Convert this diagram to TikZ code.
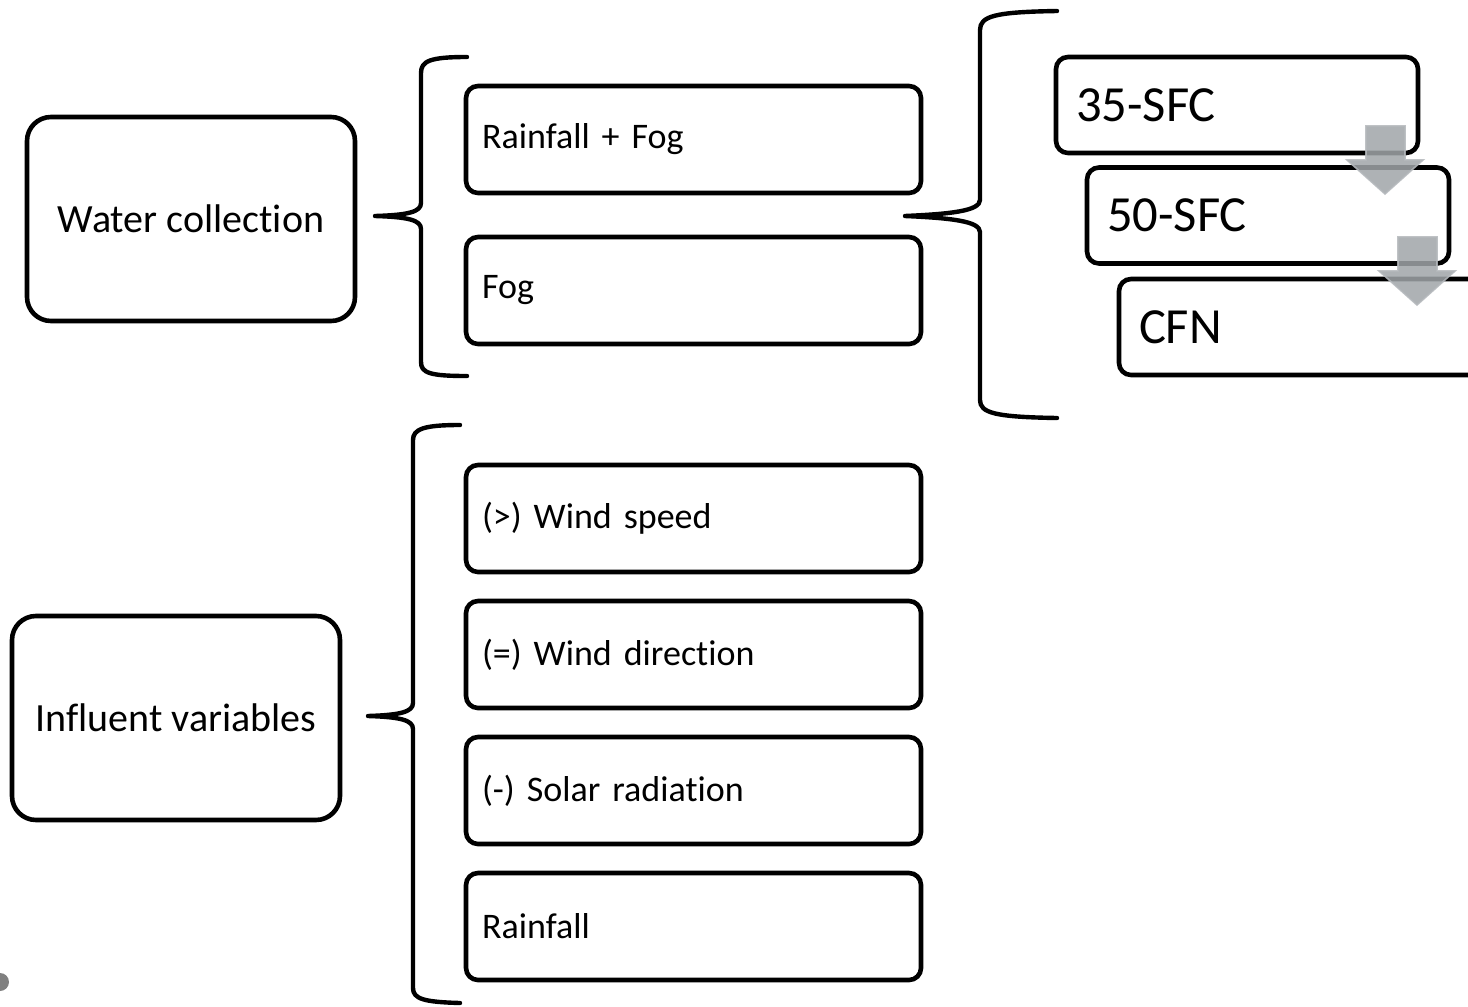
\documentclass[tikz,border=0pt]{standalone}
\usepackage{fontspec}
\setmainfont{Carlito}[Ligatures={NoCommon}]
\begin{document}
\begin{tikzpicture}[x=0.5pt,y=-0.5pt,
  bigbox/.style={draw=black,line width=2.3pt,rounded corners=12pt,minimum width=164pt,minimum height=102pt,align=center,font=\fontsize{20}{24}\selectfont},
  itembox/.style={draw=black,line width=2.3pt,rounded corners=6pt,minimum height=53.5pt,text width=211.5pt,inner xsep=8pt,align=left,font=\fontsize{18}{22}\selectfont},
  stagebox/.style={draw=black,line width=2.3pt,rounded corners=6pt,minimum height=48pt,text width=161pt,inner xsep=10pt,align=left,font=\fontsize{25.3}{30}\selectfont},
  brace/.style={line width=2.2pt,line cap=round,line join=round},
  flowarrow/.style={fill={rgb,255:red,160;green,165;blue,169},draw={rgb,255:red,180;green,184;blue,188},line width=0.8pt,opacity=0.85}]
\clip (0,0) rectangle (1468,1007);
\fill[white] (0,0) rectangle (1468,1007);

% left boxes
\node[bigbox] (wc) at (191,219) {Water collection};
\node[bigbox] (iv) at (176,718) {Influent variables};

% item boxes
\node[itembox] (rf) at (693.5,139.5) {Rainfall + Fog};
\node[itembox] (fog) at (693.5,290.5) {Fog};
\node[itembox] (ws) at (693.5,518.5) {(>) Wind speed};
\node[itembox] (wd) at (693.5,654.5) {(=) Wind direction};
\node[itembox] (sr) at (693.5,790.5) {(-) Solar radiation};
\node[itembox] (rain) at (693.5,926.5) {Rainfall};

% stage boxes
\node[stagebox] (s35) at (1237,105) {35-SFC};
\node[stagebox] (s50) at (1268,215.5) {50-SFC};
\node[stagebox] (cfn) at (1300,327) {CFN};

% braces
\draw[brace] (467,57) .. controls (430,57) and (421,61) .. (421,73) -- (421,203)
  .. controls (421,212) and (408,215) .. (375,216)
  .. controls (408,217) and (421,220) .. (421,229) -- (421,362)
  .. controls (421,373) and (430,376) .. (467,376);
\draw[brace] (1057,11) .. controls (995,12) and (980,16) .. (980,30) -- (980,200)
  .. controls (980,211) and (950,214) .. (905,216)
  .. controls (950,218) and (980,221) .. (980,232) -- (980,400)
  .. controls (980,413) and (995,417) .. (1057,418);
\draw[brace] (460,425) .. controls (424,425) and (413,429) .. (413,440) -- (413,703)
  .. controls (413,712) and (400,715) .. (368,716)
  .. controls (400,717) and (413,720) .. (413,729) -- (413,988)
  .. controls (413,999) and (424,1002) .. (460,1003);

% flow arrows
\draw[flowarrow] (1366,126) -- (1405,126) -- (1405,160) -- (1423,160) -- (1385,194) -- (1347,160) -- (1366,160) -- cycle;
\draw[flowarrow] (1398,237) -- (1437,237) -- (1437,271) -- (1455,271) -- (1417,305) -- (1379,271) -- (1398,271) -- cycle;

% dot
\fill[gray] (0,982) circle (9);
\end{tikzpicture}
\end{document}
